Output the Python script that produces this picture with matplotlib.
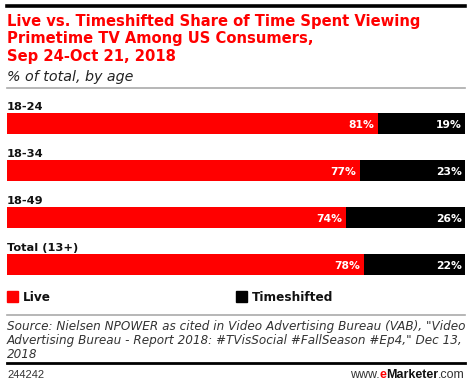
import matplotlib
matplotlib.use("Agg")
import matplotlib.pyplot as plt
from matplotlib.patches import Rectangle
from matplotlib.lines import Line2D

categories = ["18-24", "18-34", "18-49", "Total (13+)"]
live = [81, 77, 74, 78]
timeshifted = [19, 23, 26, 22]
series_names = ["Live", "Timeshifted"]

RED = "#ff0000"
BLACK = "#000000"
BOLD = "DejaVu Sans"

W, H = 470, 385
fig = plt.figure(figsize=(W / 100, H / 100), dpi=100)
renderer = fig.canvas.get_renderer()


def fx(x):
    return x / W


def fy(y):
    return 1 - y / H


def fit_size(text, target, **kw):
    t = fig.text(0, 0, text, fontsize=10, **kw)
    w = t.get_window_extent(renderer=renderer).width
    t.remove()
    return 10 * target / w


def hline(y, color, lw, x0=7, x1=465):
    fig.add_artist(Line2D([fx(x0), fx(x1)], [fy(y), fy(y)], color=color, linewidth=lw,
                          transform=fig.transFigure))


# Top rule
hline(6, "#000000", 2.6)

# Title
title_lines = ["Live vs. Timeshifted Share of Time Spent Viewing",
               "Primetime TV Among US Consumers,",
               "Sep 24-Oct 21, 2018"]
tkw = dict(family=BOLD, fontweight="bold")
ts = fit_size(title_lines[0], 413, **tkw)
for i, t in enumerate(title_lines):
    fig.text(fx(7), fy(26 + 17.5 * i), t, color=RED, fontsize=ts,
             va="baseline", ha="left", **tkw)
skw = dict(family="DejaVu Sans", style="italic")
ss = fit_size("% of total, by age", 126, **skw)
fig.text(fx(7), fy(80.5), "% of total, by age", color="#222222", fontsize=ss,
         va="baseline", ha="left", **skw)
hline(88, "#aaaaaa", 1.2)

# Bars
ax = fig.add_axes([fx(7), fy(288), fx(465) - fx(7), (288 - 100) / H])
ypos = list(range(len(categories)))
bh = 21 / 47
ax.barh(ypos, live, height=bh, color=RED, linewidth=0)
ax.barh(ypos, timeshifted, left=live, height=bh, color=BLACK, linewidth=0)
ax.set_xlim(0, 100)
ax.set_ylim(3.5, -0.5)
ax.axis("off")

bkw = dict(family=BOLD, fontweight="bold")
vs = fit_size("81%", 26, **bkw)
cs = fit_size("Total (13+)", 71, **bkw)
px = 100 / (465 - 7)  # data units per pixel
for i, (l, t) in enumerate(zip(live, timeshifted)):
    ax.text(l - 4 * px, i + 4.6 / 47, f"{l}%", color="white", fontsize=vs,
            ha="right", va="baseline", **bkw)
    ax.text(l + t - 3 * px, i + 4.6 / 47, f"{t}%", color="white", fontsize=vs,
            ha="right", va="baseline", **bkw)
    ax.text(0, i - 13.5 / 47, categories[i], color="#111111", fontsize=cs,
            ha="left", va="baseline", **bkw)

# Legend
ls = fit_size("Timeshifted", 81, **bkw)
for x0, name, col in [(7, series_names[0], RED), (236, series_names[1], BLACK)]:
    fig.add_artist(Rectangle((fx(x0), fy(301.5)), 11 / W, 11 / H, color=col,
                             transform=fig.transFigure))
    fig.text(fx(x0 + 16), fy(301), name, color="#111111", fontsize=ls,
             va="baseline", ha="left", **bkw)

hline(315, "#aaaaaa", 1.2)
source = ["Source: Nielsen NPOWER as cited in Video Advertising Bureau (VAB), \"Video",
          "Advertising Bureau - Report 2018: #TVisSocial #FallSeason #Ep4,\" Dec 13,",
          "2018"]
srs = fit_size(source[0], 456, **skw)
for i, s in enumerate(source):
    fig.text(fx(7), fy(330 + 14.2 * i), s, color="#333333", fontsize=srs,
             va="baseline", ha="left", **skw)
hline(363.3, "#000000", 2.0)
fig.text(fx(7), fy(377.7), "244242", color="#333333", fontsize=8, family="Liberation Sans",
         va="baseline", ha="left")

# www.eMarketer.com
parts = [("www.", "#333333", "normal"), ("e", RED, "bold"),
         ("Marketer", "#111111", "bold"), (".com", "#333333", "normal")]
ws = []
for part, col, wt in parts:
    tt = fig.text(0, 0, part, fontsize=9, family="Liberation Sans", fontweight=wt)
    ws.append(tt.get_window_extent(renderer=renderer).width)
    tt.remove()
x = 465 - sum(ws)
for (part, col, wt), w in zip(parts, ws):
    fig.text(fx(x), fy(377.7), part, color=col, fontsize=9,
             family="Liberation Sans", fontweight=wt, va="baseline", ha="left")
    x += w

fig.savefig("out.png", dpi=100)
